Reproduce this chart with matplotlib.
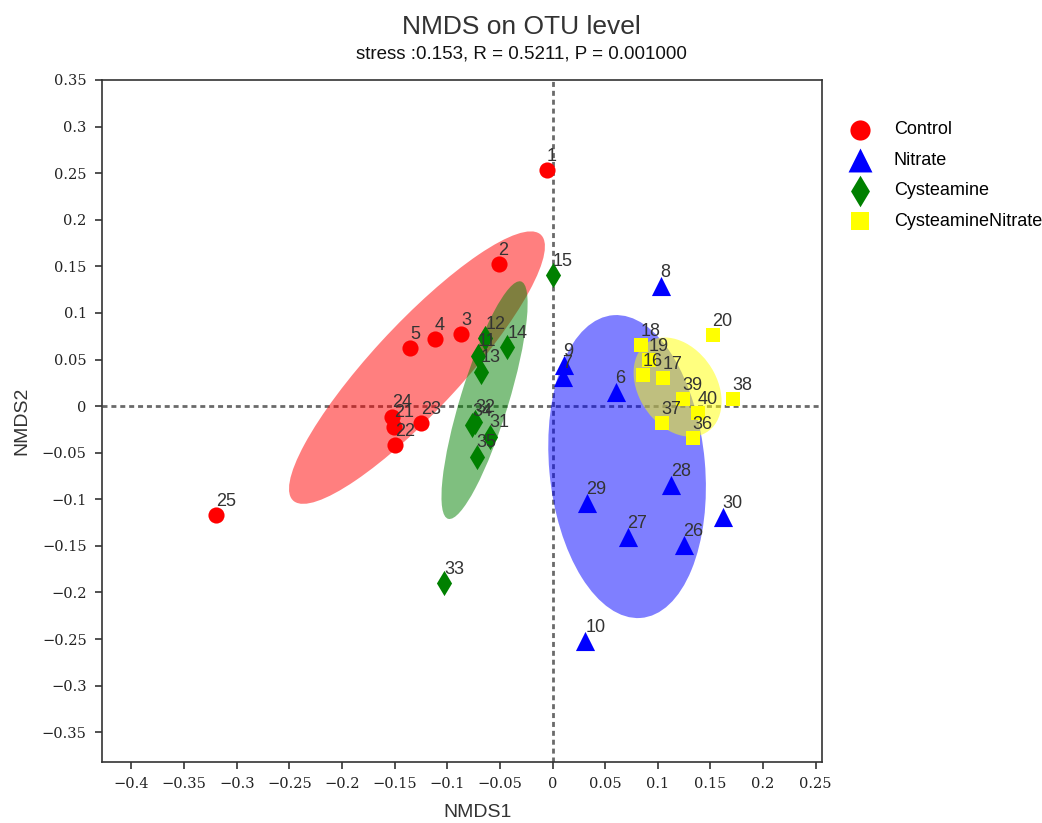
import matplotlib.pyplot as plt
from matplotlib.patches import Ellipse

plt.rcParams['font.family'] = ['Liberation Sans', 'DejaVu Sans']
plt.rcParams['axes.unicode_minus'] = True

# sample scores
control_ids = [1, 2, 3, 4, 5, 24, 21, 22, 23, 25]
control_x = [-0.0057, -0.0513, -0.0865, -0.112, -0.135, -0.1524, -0.1508, -0.150, -0.1248, -0.320]
control_y = [0.2532, 0.1524, 0.0773, 0.0719, 0.0622, -0.0115, -0.0222, -0.0418, -0.0186, -0.117]

nitrate_ids = [8, 9, 7, 6, 29, 28, 30, 27, 26, 10]
nitrate_x = [0.1027, 0.0105, 0.0095, 0.0599, 0.0323, 0.1122, 0.1616, 0.0713, 0.1245, 0.031]
nitrate_y = [0.1288, 0.044, 0.0311, 0.015, -0.104, -0.0848, -0.119, -0.1406, -0.149, -0.252]

cyst_ids = [15, 12, 11, 13, 14, 32, 34, 31, 35, 33]
cyst_x = [0.0003, -0.0637, -0.071, -0.0684, -0.043, -0.0732, -0.0763, -0.0596, -0.0722, -0.1027]
cyst_y = [0.1406, 0.0726, 0.054, 0.0368, 0.063, -0.0168, -0.0204, -0.0329, -0.0544, -0.190]

cn_ids = [18, 19, 16, 17, 20, 39, 40, 38, 37, 36]
cn_x = [0.0837, 0.0913, 0.0856, 0.1046, 0.152, 0.1236, 0.1378, 0.1711, 0.1036, 0.1331]
cn_y = [0.0655, 0.0494, 0.0333, 0.030, 0.0762, 0.0075, -0.0075, 0.0075, -0.0182, -0.0343]

# group ellipses: centre, full width / height (data units), angle in degrees
ell_cx = [-0.1288, 0.0708, -0.0646, 0.1188]
ell_cy = [0.0413, -0.0649, 0.0064, 0.0204]
ell_w = [0.370, 0.326, 0.264, 0.112]
ell_h = [0.088, 0.148, 0.046, 0.076]
ell_ang = [50.9, 94.5, 74.9, 115.0]

groups = ["Control", "Nitrate", "Cysteamine", "CysteamineNitrate"]
colors = ["#ff0000", "#0000ff", "#008000", "#ffff00"]
markers = ["o", "^", "d", "s"]
sizes = [135, 190, 165, 100]

tick_x = [-0.4, -0.35, -0.3, -0.25, -0.2, -0.15, -0.1, -0.05, 0, 0.05, 0.1, 0.15, 0.2, 0.25]
tick_y = [-0.35, -0.3, -0.25, -0.2, -0.15, -0.1, -0.05, 0, 0.05, 0.1, 0.15, 0.2, 0.25, 0.3, 0.35]


def fmt(v):
    s = "%g" % v
    return s.replace("-", "\u2212")


fig = plt.figure(figsize=(10.42, 8.23), dpi=100)
ax = fig.add_axes([0.0979, 0.0741, 0.691, 0.8287])

ax.axvline(0, color="#6a6a6a", lw=2, ls=(0, (1.8, 1.4)), zorder=0.5)
ax.axhline(0, color="#6a6a6a", lw=2, ls=(0, (1.8, 1.4)), zorder=0.5)

for i in range(4):
    e = Ellipse((ell_cx[i], ell_cy[i]), ell_w[i], ell_h[i], angle=ell_ang[i],
                facecolor=colors[i], edgecolor="none", alpha=0.5, zorder=1)
    ax.add_patch(e)

data = [(control_ids, control_x, control_y),
        (nitrate_ids, nitrate_x, nitrate_y),
        (cyst_ids, cyst_x, cyst_y),
        (cn_ids, cn_x, cn_y)]

for i, (ids, xs, ys) in enumerate(data):
    ax.scatter(xs, ys, s=sizes[i], c=colors[i], marker=markers[i],
               linewidths=0, label=groups[i], zorder=3)
    for n, x, y in zip(ids, xs, ys):
        ax.text(x, y + 0.01, str(n), fontsize=13, color="#333333", zorder=4)

ax.set_xlim(-0.428, 0.256)
ax.set_ylim(-0.382, 0.35)
ax.set_xticks(tick_x)
ax.set_xticklabels([fmt(v) for v in tick_x])
ax.set_yticks(tick_y)
ax.set_yticklabels([fmt(v) for v in tick_y])
for lab in ax.get_xticklabels() + ax.get_yticklabels():
    lab.set_family("DejaVu Serif")
    lab.set_fontsize(10.5)
    lab.set_color("#222222")
ax.tick_params(direction="out", length=5, width=1.2, color="#333333", pad=6)
for sp in ax.spines.values():
    sp.set_color("#333333")
    sp.set_linewidth(1.2)

ax.set_xlabel("NMDS1", fontsize=14, color="#333333")
ax.set_ylabel("NMDS2", fontsize=14, color="#333333")
ax.xaxis.set_label_coords(0.522, -0.062)
ax.yaxis.set_label_coords(-0.099, 0.5)

fig.text(0.5, 0.967, "NMDS on OTU level", fontsize=19, color="#333333",
         ha="center", va="center")
fig.text(0.5, 0.9345, "stress :0.153, R = 0.5211, P = 0.001000", fontsize=13.5,
         color="#111111", ha="center", va="center")

leg = ax.legend(loc="upper left", bbox_to_anchor=(1.017, 0.95), frameon=False,
                fontsize=13, markerscale=1.25, labelspacing=0.75,
                handletextpad=0.9, borderaxespad=0)

fig.savefig("out.png", dpi=100)
